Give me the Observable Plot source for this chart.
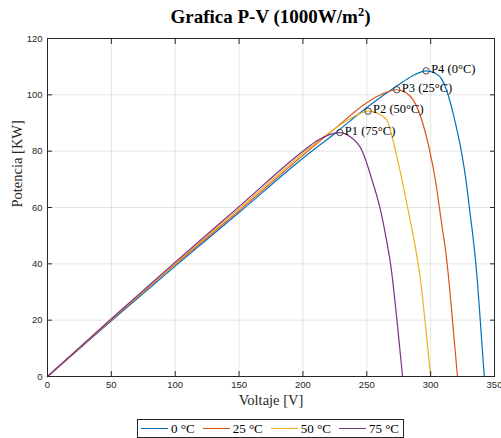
<!DOCTYPE html>
<html><head><meta charset="utf-8">
<script src="https://cdn.jsdelivr.net/npm/d3@7"></script>
<script src="https://cdn.jsdelivr.net/npm/@observablehq/plot@0.6"></script>
<style>
body{margin:0;background:#fff;}
#wrap{position:relative;width:501px;height:438px;overflow:hidden;background:#fff;}
#wrap svg{position:absolute;left:0;top:0;}
#title{position:absolute;left:47px;width:447px;top:6px;text-align:center;font:bold 19px/21px "Liberation Serif";color:#000;white-space:nowrap;}
#title sup{font-size:12.5px;line-height:0;vertical-align:0;position:relative;top:-7px;}
#legend{position:absolute;left:137px;top:419px;width:267px;height:19px;box-sizing:border-box;border:1px solid #262626;background:#fff;display:flex;align-items:center;font:13px "Liberation Serif";color:#000;white-space:nowrap;}
#legend .it{display:flex;align-items:center;margin-left:3px;margin-right:5px;white-space:nowrap;flex:none;}
#legend .ln{display:inline-block;width:27px;height:1.3px;margin-right:3px;flex:none;}
</style></head><body><div id="wrap"><div id="title">Grafica P-V (1000W/m<sup>2</sup>)</div></div>
<script>
const series = ["0 °C", "25 °C", "50 °C", "75 °C"];
const colors = ["#0072BD", "#D95319", "#EDB120", "#7E2F8E"];

const v0 = [0, 50, 100, 150, 200, 225, 250, 274, 286, 296.5, 304, 309, 313, 318.2, 323.4, 327.3, 331.2, 332.6, 336.5, 339.3, 342];
const p0 = [0, 19.8, 39.2, 58.2, 77.5, 86.3, 95.5, 103.3, 106.8, 108.5, 107.6, 105.3, 100.9, 92.3, 81.5, 70.9, 56.7, 51.8, 34.5, 17, 0];

const v25 = [0, 50, 100, 150, 200, 225, 250, 262, 273.5, 284.2, 292, 298.6, 303.8, 309, 311.7, 314.3, 317.7, 321];
const p25 = [0, 20.1, 39.8, 58.9, 78.5, 88, 97.2, 100.3, 101.8, 99.4, 92.5, 81.5, 69.5, 53, 44.7, 34, 16.9, 0];

const v50 = [0, 50, 100, 150, 200, 225, 240, 251, 261, 266, 272.5, 277.7, 283, 288.2, 292.1, 296.2, 300];
const p50 = [0, 20.3, 40.2, 59.6, 79.2, 88, 92.3, 94.2, 92.8, 90.8, 80.1, 69.5, 57.7, 45.5, 34, 17, 0];

const v75 = [0, 50, 100, 150, 200, 211, 228.9, 237, 246.4, 254.3, 260.8, 266, 268.6, 274.3, 278];
const p75 = [0, 20.5, 40.6, 60.3, 80, 83.7, 86.6, 85.1, 80.1, 69.5, 59, 47, 40, 17, 0];

const mppLabels = ["P4 (0°C)", "P3 (25°C)", "P2 (50°C)", "P1 (75°C)"];
const mppV = [296.5, 273.5, 251, 228.9];
const mppP = [108.5, 101.8, 94.2, 86.6];

const xTicks = [0, 50, 100, 150, 200, 250, 300, 350];
const yTicks = [0, 20, 40, 60, 80, 100, 120];

const vs = [v0, v25, v50, v75], ps = [p0, p25, p50, p75];
const data = [];
series.forEach((s, i) => vs[i].forEach((v, j) => data.push({s, v, p: ps[i][j]})));
const mpp = mppLabels.map((t, i) => ({t, v: mppV[i], p: mppP[i]}));

const axisColor = "#262626";
const chart = Plot.plot({
  width: 501, height: 438,
  marginTop: 38, marginBottom: 62, marginLeft: 47, marginRight: 7,
  x: {domain: [0, 350]},
  y: {domain: [0, 120]},
  color: {domain: series, range: colors},
  style: {fontFamily: "Liberation Sans, Arial, sans-serif", fontSize: "9.5px", color: axisColor, background: "white"},
  marks: [
    Plot.gridX(xTicks, {stroke: "#000", strokeOpacity: 0.1}),
    Plot.gridY(yTicks, {stroke: "#000", strokeOpacity: 0.1}),
    Plot.line(data, {x: "v", y: "p", stroke: "s", z: "s", curve: "monotone-x", strokeWidth: 1.2}),
    Plot.dot(mpp, {x: "v", y: "p", r: 3.2, stroke: "#333", strokeWidth: 0.9, fill: "none"}),
    Plot.text(mpp, {x: "v", y: "p", text: "t", textAnchor: "start", dx: 5, dy: -2, fontFamily: "Liberation Serif", fontSize: 12.5, fill: "#000"}),
    Plot.frame({stroke: axisColor}),
    Plot.axisX(xTicks, {tickSize: 0, tickPadding: 5, label: null}),
    Plot.axisX(xTicks, {tickSize: -5, tickFormat: () => "", label: null, stroke: axisColor}),
    Plot.axisX(xTicks, {anchor: "top", tickSize: -5, tickFormat: () => "", label: null, stroke: axisColor}),
    Plot.axisY(yTicks, {tickSize: 0, tickPadding: 5, label: null}),
    Plot.axisY(yTicks, {tickSize: -5, tickFormat: () => "", label: null, stroke: axisColor}),
    Plot.axisY(yTicks, {anchor: "right", tickSize: -5, tickFormat: () => "", label: null, stroke: axisColor}),
    Plot.text(["Voltaje [V]"], {frameAnchor: "bottom", dy: 28, text: d => d, fontFamily: "Liberation Serif", fontSize: 14.5, fill: axisColor}),
    Plot.text(["Potencia [KW]"], {frameAnchor: "left", dx: -30, rotate: -90, text: d => d, fontFamily: "Liberation Serif", fontSize: 14.5, fill: axisColor})
  ]
});
const wrap = document.getElementById("wrap");
wrap.insertBefore(chart, wrap.firstChild);

const leg = document.createElement("div");
leg.id = "legend";
series.forEach((s, i) => {
  const it = document.createElement("span");
  it.className = "it";
  const ln = document.createElement("span");
  ln.className = "ln";
  ln.style.background = colors[i];
  it.appendChild(ln);
  it.appendChild(document.createTextNode(s));
  leg.appendChild(it);
});
wrap.appendChild(leg);
</script>
</body></html>
